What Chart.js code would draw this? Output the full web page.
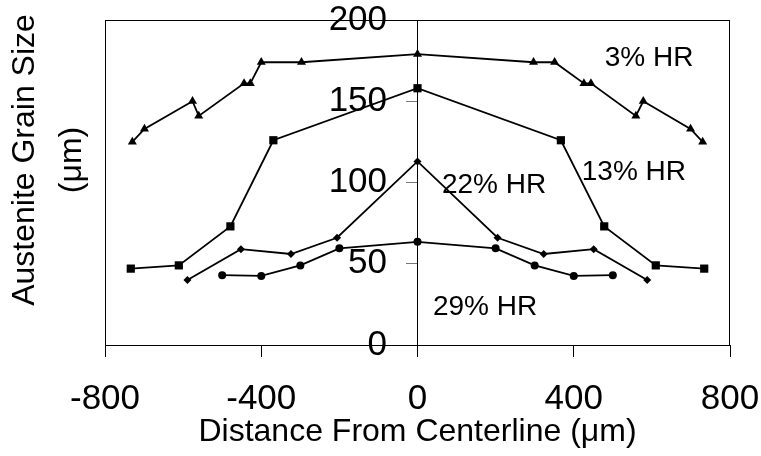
<!DOCTYPE html>
<html>
<head>
<meta charset="utf-8">
<script src="https://cdn.jsdelivr.net/npm/chart.js@4/dist/chart.umd.min.js"></script>
<style>
	body { margin: 0; background: #fff; }
	#wrap { width: 761px; height: 456px; }
</style>
</head>
<body>
<div id="wrap"><canvas id="grainChart"></canvas></div>
<script>
// distance from centerline (um) and grain size (um) for each hot-rolling reduction
var pos3 = [-730, -699, -576, -560, -444, -428, -400, -297, 0, 297, 351, 426, 444, 559, 578, 699, 730];
var size3 = [125, 133, 150, 141, 161, 161, 174, 174, 179, 174, 174, 161, 161, 141, 150, 133, 125];

var pos13 = [-734, -611, -479, -369, 0, 367, 478, 610, 734];
var size13 = [47, 49, 73, 126, 158, 126, 73, 49, 47];

var pos22 = [-589, -452, -324, -206, 0, 205, 323, 451, 588];
var size22 = [40, 59, 56, 66, 113, 66, 56, 59, 40];

var pos29 = [-500, -400, -300, -200, 0, 200, 300, 400, 500];
var size29 = [43, 42.5, 49, 59.5, 63.5, 59.5, 49, 42.5, 43];

var xTicks = [-800, -400, 0, 400, 800];
var yTicks = [0, 50, 100, 150, 200];

// series labels written next to the curves, anchored in data units
var notes = [
	{ text: '3% HR', x: 593, y: 176.5 },
	{ text: '13% HR', x: 554, y: 106.5 },
	{ text: '22% HR', x: 196, y: 98.5 },
	{ text: '29% HR', x: 173, y: 23.5 }
];

var FONT = '"Liberation Sans", Arial, sans-serif';

function pts(xs, ys) {
	var out = [];
	for (var i = 0; i < xs.length; i++) out.push({ x: xs[i], y: ys[i] });
	return out;
}

function series(label, xs, ys, shape, r) {
	return {
		label: label,
		data: pts(xs, ys),
		showLine: true,
		borderColor: '#000',
		backgroundColor: '#000',
		borderWidth: 1.8,
		pointStyle: shape,
		pointRadius: r,
		pointBorderWidth: 0,
		pointBackgroundColor: '#000'
	};
}

function setTicks(list) {
	return function(s) { s.ticks = list.map(function(v) { return { value: v }; }); };
}

var extras = {
	id: 'extras',
	afterDraw: function(chart) {
		var c = chart.ctx, a = chart.chartArea;
		var sx = chart.scales.x, sy = chart.scales.y;
		c.save();
		// plot frame
		c.strokeStyle = '#000';
		c.lineWidth = 1;
		c.strokeRect(a.left + 0.5, a.top + 0.5, a.right - a.left - 1, a.bottom - a.top);

		c.fillStyle = '#000';
		c.textAlign = 'center';
		c.textBaseline = 'middle';
		c.font = '28px ' + FONT;
		notes.forEach(function(n) {
			c.fillText(n.text, sx.getPixelForValue(n.x), sy.getPixelForValue(n.y));
		});

		// y title, two lines
		c.translate(0, 160);
		c.rotate(-Math.PI / 2);
		c.font = '32px ' + FONT;
		c.fillText('Austenite Grain Size', 0, 25);
		c.fillText('(\u03bcm)', 0, 72);
		c.restore();
	}
};

var ctx = document.getElementById('grainChart');
var grainChart = new Chart(ctx, {
	type: 'scatter',
	data: {
		datasets: [
			series('3% HR', pos3, size3, 'triangle', 5.2),
			series('13% HR', pos13, size13, 'rect', 5.8),
			series('22% HR', pos22, size22, 'rectRot', 4),
			series('29% HR', pos29, size29, 'circle', 4)
		]
	},
	options: {
		responsive: true,
		maintainAspectRatio: false,
		animation: false,
		layout: { padding: { left: 105, right: 31, top: 20, bottom: 0 } },
		plugins: { legend: { display: false }, tooltip: { enabled: false } },
		scales: {
			x: {
				type: 'linear',
				min: -800,
				max: 800,
				afterBuildTicks: setTicks(xTicks),
				// fixed axis band, labels allowed to overhang the sides
				afterFit: function(s) { s.height = 111; s.paddingLeft = 0; s.paddingRight = 0; },
				grid: { drawOnChartArea: false, tickLength: 12, tickColor: '#000', tickWidth: 1 },
				border: { color: '#000', width: 1 },
				ticks: { color: '#000', padding: 21, maxRotation: 0, font: { family: FONT, size: 35 } },
				title: {
					display: true,
					text: 'Distance From Centerline (\u03bcm)',
					color: '#000',
					font: { family: FONT, size: 32 },
					padding: { top: 0, bottom: 5 }
				}
			},
			// axis line and tick marks through x = 0
			y: {
				type: 'linear',
				position: { x: 0 },
				min: 0,
				max: 200,
				afterBuildTicks: setTicks(yTicks),
				afterFit: function(s) { s.paddingTop = 0; s.paddingBottom = 0; },
				grid: { drawOnChartArea: false, tickLength: 11, tickColor: '#777', tickWidth: 1 },
				border: { color: '#000', width: 1 },
				ticks: { display: false }
			},
			// same range, only carries the tick numbers a bit left of the centre axis
			yLabels: {
				type: 'linear',
				position: { x: -78 },
				min: 0,
				max: 200,
				afterBuildTicks: setTicks(yTicks),
				afterFit: function(s) { s.paddingTop = 0; s.paddingBottom = 0; },
				grid: { display: false },
				border: { display: false },
				ticks: { color: '#000', font: { family: FONT, size: 35 } }
			}
		}
	},
	plugins: [extras]
});
</script>
</body>
</html>
